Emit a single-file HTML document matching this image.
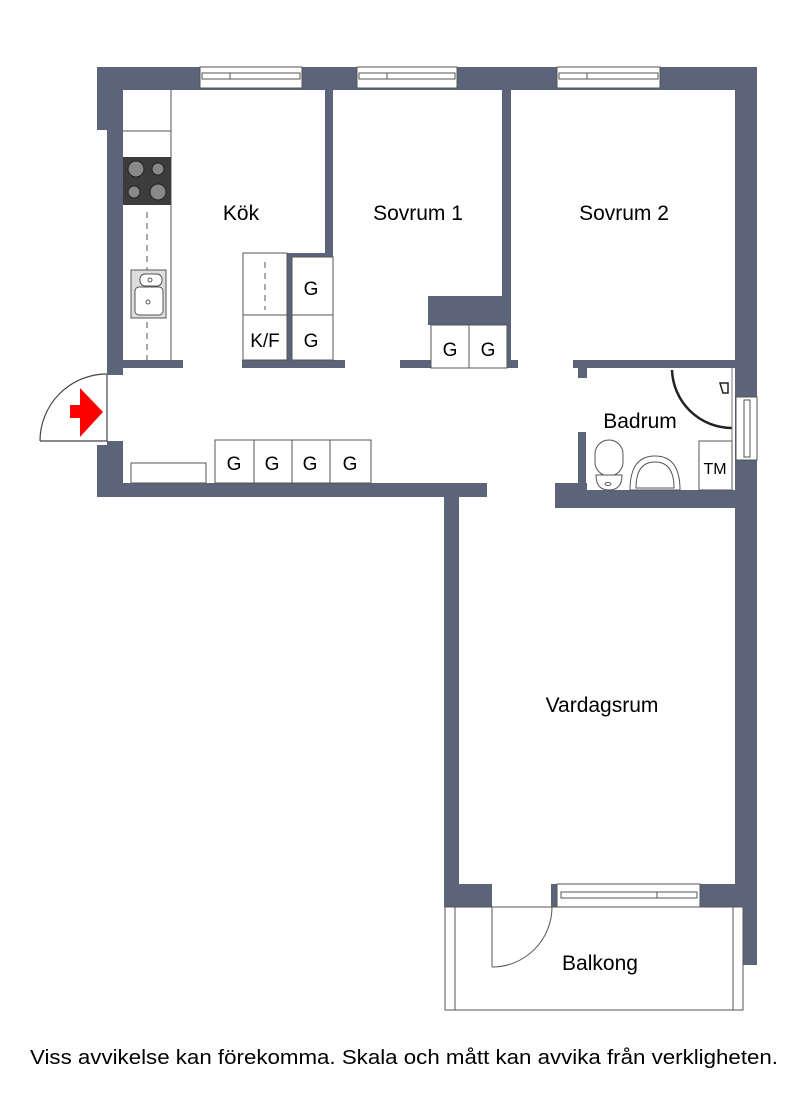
<!DOCTYPE html>
<html><head><meta charset="utf-8"><style>
body{margin:0;background:#fff;}
svg text{font-family:"Liberation Sans","DejaVu Sans",sans-serif;fill:#000;}
</style></head><body>
<svg width="800" height="1105" viewBox="0 0 800 1105" xmlns="http://www.w3.org/2000/svg">
<g fill="#5b6478">
<rect x="97" y="67" width="660" height="23"/>
<rect x="97" y="67" width="26" height="63"/>
<rect x="107" y="67" width="16" height="308"/>
<rect x="107" y="441" width="16" height="56"/>
<rect x="97" y="445" width="26" height="52"/>
<rect x="97" y="483" width="390" height="14"/>
<rect x="444" y="483" width="43" height="14"/>
<rect x="444" y="497" width="15" height="410"/>
<rect x="444" y="884" width="48" height="23"/>
<rect x="551" y="884" width="6" height="23"/>
<rect x="700" y="884" width="57" height="23"/>
<rect x="735" y="67" width="22" height="840"/>
<rect x="743" y="900" width="14" height="65"/>
<rect x="325" y="90" width="8" height="167"/>
<rect x="287" y="253" width="46" height="4"/>
<rect x="287" y="253" width="5" height="107"/>
<rect x="123" y="360" width="60" height="8"/>
<rect x="242" y="360" width="103" height="8"/>
<rect x="502" y="90" width="9" height="278"/>
<rect x="428" y="296" width="80" height="29"/>
<rect x="400" y="360" width="31" height="8"/>
<rect x="507" y="360" width="11" height="8"/>
<rect x="573" y="360" width="162" height="8"/>
<rect x="578" y="360" width="9" height="18"/>
<rect x="578" y="432" width="8" height="60"/>
<rect x="555" y="483" width="32" height="25"/>
<rect x="555" y="490" width="202" height="18"/>
</g>
<g fill="#fff" stroke="#555" stroke-width="1">
<rect x="200" y="67" width="102" height="21"/>
<rect x="357" y="67" width="100" height="21"/>
<rect x="557" y="67" width="103" height="21"/>
<rect x="736" y="397" width="21" height="63"/>
<rect x="557" y="884" width="143" height="23"/>
</g>
<g stroke="#555" stroke-width="1" fill="none">
<rect x="202" y="73" width="98" height="6"/><line x1="230" y1="73" x2="230" y2="79"/>
<rect x="359" y="73" width="96" height="6"/><line x1="387" y1="73" x2="387" y2="79"/>
<rect x="559" y="73" width="99" height="6"/><line x1="587" y1="73" x2="587" y2="79"/>
<rect x="744" y="400" width="6" height="57"/>
<rect x="561" y="892" width="136" height="6"/><line x1="657" y1="892" x2="657" y2="898"/>
</g>
<g stroke="#555" stroke-width="1" fill="#fff">
<line x1="171" y1="90" x2="171" y2="360"/>
<line x1="123" y1="131" x2="171" y2="131"/>
<rect x="123" y="157" width="48" height="48" fill="#3c3c3c" stroke="none"/>
<circle cx="136" cy="169" r="8" fill="#888" stroke="#222"/>
<circle cx="158" cy="169" r="6" fill="#888" stroke="#222"/>
<circle cx="134" cy="192" r="6" fill="#888" stroke="#222"/>
<circle cx="158" cy="192" r="8" fill="#888" stroke="#222"/>
<line x1="147" y1="212" x2="147" y2="360" stroke-dasharray="6,5"/>
<rect x="131" y="270" width="35" height="48" fill="#ddd"/>
<rect x="135" y="287" width="28" height="28" rx="4" fill="#fff"/>
<rect x="140" y="274" width="22" height="12" rx="5" fill="#fff"/>
<circle cx="148" cy="302" r="2"/><circle cx="150" cy="280" r="2"/>
</g>
<g stroke="#555" stroke-width="1" fill="#fff">
<rect x="243" y="253" width="44" height="107"/>
<line x1="243" y1="315" x2="287" y2="315"/>
<line x1="265" y1="262" x2="265" y2="310" stroke-dasharray="6,5"/>
<rect x="292" y="257" width="41" height="103"/>
<line x1="292" y1="315" x2="333" y2="315"/>
<rect x="431" y="325" width="38" height="43"/>
<rect x="469" y="325" width="38" height="43"/>
<rect x="215" y="440" width="39" height="43"/>
<rect x="254" y="440" width="38" height="43"/>
<rect x="292" y="440" width="38" height="43"/>
<rect x="330" y="440" width="41" height="43"/>
<rect x="131" y="463" width="75" height="20"/>
</g>
<g stroke="#444" stroke-width="1.2" fill="none">
<line x1="107" y1="375" x2="107" y2="441"/>
<line x1="40" y1="441" x2="107" y2="441"/>
<path d="M40 441 A67 67 0 0 1 107 374"/>
</g>
<polygon points="70,405 80,405 80,388 103,412 80,437 80,418 70,418" fill="#f00"/>
<g stroke="#222" fill="none">
<path d="M672 370 A60 60 0 0 0 732 428" stroke-width="2.5"/>
<line x1="732" y1="368" x2="732" y2="490" stroke="#777"/>
<path d="M720 383 h8 v10 h-5 z" stroke-width="1.5"/>
</g>
<g stroke="#555" stroke-width="1" fill="#fff">
<rect x="595" y="440" width="28" height="36" rx="14"/>
<path d="M596 475 h26 q0 15 -13 15 q-13 0 -13 -15z"/>
<ellipse cx="608" cy="484" rx="3" ry="1.5"/>
<path d="M630 490 q0 -34 25 -34 q25 0 25 34z"/>
<path d="M636 488 q0 -26 19 -26 q19 0 19 26z"/>
<rect x="699" y="441" width="33" height="49"/>
</g>
<g stroke="#555" stroke-width="1" fill="none">
<rect x="445" y="907" width="298" height="103"/>
<line x1="455" y1="907" x2="455" y2="1010"/>
<line x1="733" y1="907" x2="733" y2="1010"/>
<line x1="492" y1="907" x2="492" y2="967"/>
<path d="M492 967 A60 60 0 0 0 552 907"/>
</g>
<g font-size="21">
<text x="241" y="220" text-anchor="middle">Kök</text>
<text x="418" y="220" text-anchor="middle">Sovrum 1</text>
<text x="624" y="220" text-anchor="middle">Sovrum 2</text>
<text x="640" y="428" text-anchor="middle">Badrum</text>
<text x="602" y="712" text-anchor="middle">Vardagsrum</text>
<text x="600" y="970" text-anchor="middle">Balkong</text>
</g>
<g font-size="19" text-anchor="middle">
<text x="311" y="295">G</text>
<text x="311" y="347">G</text>
<text x="265" y="347">K/F</text>
<text x="450" y="356">G</text>
<text x="488" y="356">G</text>
<text x="234" y="470">G</text>
<text x="272" y="470">G</text>
<text x="310" y="470">G</text>
<text x="350" y="470">G</text>
<text x="715" y="474" font-size="16">TM</text>
</g>
<text x="30" y="1064" font-size="20" textLength="748" lengthAdjust="spacingAndGlyphs">Viss avvikelse kan förekomma. Skala och mått kan avvika från verkligheten.</text>
</svg>
</body></html>
